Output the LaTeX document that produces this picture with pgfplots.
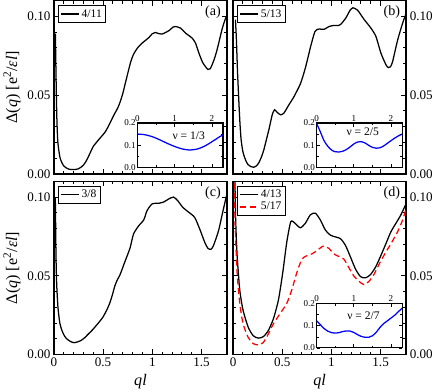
\documentclass[border=0pt]{standalone}
\usepackage{fontspec}
\setmainfont{Liberation Serif}
\usepackage{pgfplots}
\pgfplotsset{compat=1.18}

\tikzset{
  plab/.style={anchor=north east, font=\fontsize{14}{14}\selectfont},
  nlab/.style={font=\fontsize{11.5}{11.5}\selectfont},
}
\pgfplotsset{
  panel/.style={
    scale only axis, width=172pt, height=172pt, anchor=south west,
    xmin=0, xmax=1.76, ymin=0, ymax=0.11,
    xtick={0,0.5,1,1.5}, ytick={0,0.05,0.1},
    minor x tick num=4, minor y tick num=4,
    tick align=inside, major tick length=5pt, minor tick length=2.8pt,
    axis line style={line width=1.4pt},
    every tick/.style={black, line width=0.9pt},
    scaled y ticks=false,
    /pgf/number format/assume math mode=true,
    yticklabel style={/pgf/number format/fixed, /pgf/number format/fixed zerofill, /pgf/number format/precision=2},
    tick label style={font=\fontsize{13}{13}\selectfont},
    label style={font=\fontsize{16}{16}\selectfont},
    legend style={at={(0.025,0.975)}, anchor=north west, draw=black, line width=0.8pt,
      font=\fontsize{11.5}{11.5}\selectfont, inner sep=2pt, row sep=-1pt},
    legend cell align=left,
    legend image code/.code={\draw[#1] (0cm,0cm) -- (0.62cm,0cm);},
    every axis plot/.append style={line width=1.25pt, smooth, tension=0.4},
  },
  inset/.style={
    scale only axis, width=85pt, height=44pt, anchor=south west,
    xmin=0, xmax=2.3, ymin=0, ymax=0.2,
    xtick={0,1,2}, ytick={0,0.1,0.2},
    minor x tick num=1, minor y tick num=1,
    xticklabel pos=upper,
    tick align=inside, major tick length=3.5pt, minor tick length=2pt,
    axis line style={line width=1.1pt},
    every tick/.style={black, line width=0.7pt},
    axis background/.style={fill=white},
    /pgf/number format/assume math mode=true,
    yticklabel style={/pgf/number format/fixed, /pgf/number format/fixed zerofill, /pgf/number format/precision=1},
    tick label style={font=\fontsize{9}{9}\selectfont, inner sep=1.5pt},
  },
  bline/.style={blue, line width=1.25pt, smooth, no markers},
}

\begin{document}
\begin{tikzpicture}
% (a)
\begin{axis}[panel, at={(0pt,179.5pt)}, xticklabels={},
  ylabel={Δ(\textit{q}) [e\textsuperscript{2}/\textit{εl}]}]
\addplot[black] coordinates {
 (0.015,0.089) (0.022,0.060) (0.030,0.035) (0.040,0.020) (0.063,0.010)
 (0.10,0.0050) (0.15,0.0030) (0.20,0.0027) (0.25,0.0032) (0.30,0.0055)
 (0.335,0.0089) (0.37,0.0135) (0.40,0.0174) (0.454,0.0216) (0.52,0.0265)
 (0.56,0.031) (0.607,0.037) (0.65,0.042) (0.675,0.046) (0.70,0.051)
 (0.726,0.0576) (0.777,0.0703) (0.81,0.076) (0.85,0.080) (0.896,0.083)
 (0.964,0.0865) (1.00,0.089) (1.03,0.0898) (1.07,0.0890) (1.10,0.0888)
 (1.17,0.0910) (1.21,0.0932) (1.236,0.0936) (1.287,0.0926) (1.338,0.0894)
 (1.38,0.0875) (1.406,0.0862) (1.44,0.083) (1.474,0.0767) (1.51,0.071)
 (1.536,0.0685) (1.565,0.0663) (1.59,0.0668) (1.628,0.0725) (1.655,0.078)
 (1.679,0.084) (1.71,0.092) (1.74,0.098) (1.76,0.101)
};
\addlegendentry{4/11}
\node[plab] at (rel axis cs:0.985,0.99) {(a)};
\end{axis}
% (b)
\begin{axis}[panel, at={(178pt,179.5pt)}, xticklabels={}, yticklabel pos=right]
\addplot[black] coordinates {
 (0.024,0.098) (0.034,0.085) (0.045,0.065) (0.058,0.047) (0.07,0.032)
 (0.082,0.0216) (0.10,0.014) (0.126,0.0089) (0.15,0.006) (0.177,0.0047)
 (0.211,0.0042) (0.24,0.0052) (0.26,0.0068) (0.29,0.011) (0.313,0.0153)
 (0.34,0.022) (0.364,0.028) (0.385,0.034) (0.40,0.038) (0.422,0.0407)
 (0.449,0.039) (0.483,0.0375) (0.517,0.0386) (0.568,0.0439) (0.619,0.049)
 (0.687,0.0576) (0.738,0.068) (0.789,0.081) (0.833,0.0905) (0.874,0.0920)
 (0.925,0.0918) (0.976,0.0936) (1.027,0.0943) (1.07,0.0942) (1.095,0.0950)
 (1.146,0.099) (1.19,0.104) (1.22,0.1055) (1.265,0.104) (1.30,0.101)
 (1.333,0.098) (1.401,0.0926) (1.452,0.0873) (1.503,0.0767) (1.554,0.0693)
 (1.578,0.0675) (1.60,0.068) (1.622,0.0714) (1.673,0.085) (1.724,0.0958)
 (1.76,0.102)
};
\addlegendentry{5/13}
\node[plab] at (rel axis cs:0.985,0.99) {(b)};
\end{axis}
% (c)
\begin{axis}[panel, at={(0pt,0pt)}, xlabel={\textit{ql}},
  ylabel={Δ(\textit{q}) [e\textsuperscript{2}/\textit{εl}]}]
\addplot[black] coordinates {
 (0.014,0.100) (0.018,0.080) (0.021,0.0624) (0.028,0.045) (0.041,0.030)
 (0.06,0.020) (0.083,0.015) (0.11,0.0115) (0.135,0.0097) (0.17,0.0082)
 (0.204,0.0075) (0.24,0.0080) (0.273,0.0088) (0.31,0.0105) (0.342,0.0125)
 (0.39,0.0155) (0.429,0.0183) (0.465,0.021) (0.498,0.0237) (0.535,0.028)
 (0.567,0.0325) (0.595,0.038) (0.619,0.0435) (0.645,0.0475) (0.671,0.0505)
 (0.722,0.059) (0.774,0.0677) (0.809,0.0765) (0.861,0.0817) (0.913,0.0855)
 (0.947,0.0914) (0.999,0.0957) (1.068,0.0961) (1.12,0.0970) (1.172,0.0990)
 (1.217,0.1000) (1.258,0.0978) (1.31,0.0935) (1.362,0.0908) (1.431,0.0871)
 (1.483,0.0796) (1.535,0.0710) (1.565,0.0675) (1.595,0.0668) (1.621,0.0690)
 (1.673,0.0785) (1.708,0.0882) (1.74,0.097) (1.76,0.102)
};
\addlegendentry{3/8}
\node[plab] at (rel axis cs:0.985,0.99) {(c)};
\end{axis}
% (d)
\begin{axis}[panel, at={(178pt,0pt)}, xlabel={\textit{ql}}, yticklabel pos=right]
\addplot[black] coordinates {
 (0.017,0.115) (0.022,0.100) (0.027,0.084) (0.041,0.063) (0.068,0.041)
 (0.102,0.028) (0.154,0.0173) (0.205,0.0119) (0.256,0.0104) (0.307,0.0113)
 (0.358,0.0152) (0.41,0.0227) (0.461,0.0346) (0.505,0.052) (0.546,0.0714)
 (0.587,0.0844) (0.631,0.0833) (0.683,0.0805) (0.734,0.0833) (0.785,0.0887)
 (0.836,0.0898) (0.887,0.0855) (0.939,0.0790) (0.99,0.0758) (1.04,0.0747)
 (1.092,0.0736) (1.143,0.0693) (1.195,0.0617) (1.246,0.0541) (1.297,0.0494)
 (1.348,0.0487) (1.399,0.0509) (1.451,0.0558) (1.502,0.0628) (1.553,0.0703)
 (1.604,0.0779) (1.655,0.0833) (1.706,0.0887) (1.76,0.096)
};
\addlegendentry{4/13}
\addplot[red, dash pattern=on 6pt off 3.5pt] coordinates {
 (0.014,0.115) (0.02,0.084) (0.041,0.052) (0.068,0.0325) (0.102,0.0195)
 (0.154,0.0108) (0.205,0.0069) (0.256,0.0061) (0.307,0.0076) (0.358,0.013)
 (0.41,0.0195) (0.478,0.026) (0.546,0.0325) (0.597,0.0411) (0.648,0.052)
 (0.70,0.0606) (0.751,0.0628) (0.802,0.0639) (0.853,0.0660) (0.915,0.0688)
 (0.973,0.0675) (1.024,0.0639) (1.075,0.0623) (1.126,0.0606) (1.177,0.0552)
 (1.229,0.0498) (1.28,0.0465) (1.331,0.0444) (1.382,0.0465) (1.433,0.0509)
 (1.502,0.0595) (1.553,0.065) (1.604,0.0703) (1.672,0.0779) (1.724,0.0855)
 (1.76,0.093)
};
\addlegendentry{5/17}
\node[plab] at (rel axis cs:0.985,0.99) {(d)};
\end{axis}
% insets
\begin{axis}[inset, at={(83pt,186pt)}]
\addplot[bline] coordinates {
 (0,0.150) (0.2,0.147) (0.4,0.138) (0.6,0.124) (0.8,0.108) (1.0,0.094)
 (1.2,0.083) (1.4,0.078) (1.6,0.082) (1.8,0.095) (2.0,0.115) (2.2,0.137)
 (2.3,0.146)
};
\node[nlab] at (axis cs:1.38,0.143) {ν = 1/3};
\end{axis}
\begin{axis}[inset, at={(261pt,186pt)}]
\addplot[bline] coordinates {
 (0,0.198) (0.1,0.160) (0.2,0.120) (0.3,0.095) (0.4,0.078) (0.5,0.070)
 (0.6,0.069) (0.7,0.072) (0.8,0.080) (0.9,0.092) (1.0,0.105) (1.1,0.114)
 (1.2,0.116) (1.3,0.110) (1.4,0.099) (1.5,0.090) (1.6,0.086) (1.7,0.088)
 (1.8,0.096) (1.9,0.108) (2.0,0.120) (2.1,0.132) (2.2,0.142) (2.3,0.150)
};
\node[nlab] at (axis cs:1.24,0.160) {ν = 2/5};
\end{axis}
\begin{axis}[inset, at={(261pt,6.5pt)}]
\addplot[bline] coordinates {
 (0,0.122) (0.1,0.105) (0.2,0.088) (0.3,0.076) (0.4,0.069) (0.5,0.067)
 (0.6,0.069) (0.7,0.074) (0.8,0.077) (0.9,0.076) (1.0,0.070) (1.1,0.060)
 (1.2,0.052) (1.3,0.048) (1.4,0.048) (1.5,0.055) (1.6,0.070) (1.7,0.092)
 (1.8,0.110) (1.9,0.122) (2.0,0.135) (2.1,0.148) (2.2,0.164) (2.3,0.180)
};
\node[nlab] at (axis cs:1.26,0.145) {ν = 2/7};
\end{axis}
\end{tikzpicture}
\end{document}
